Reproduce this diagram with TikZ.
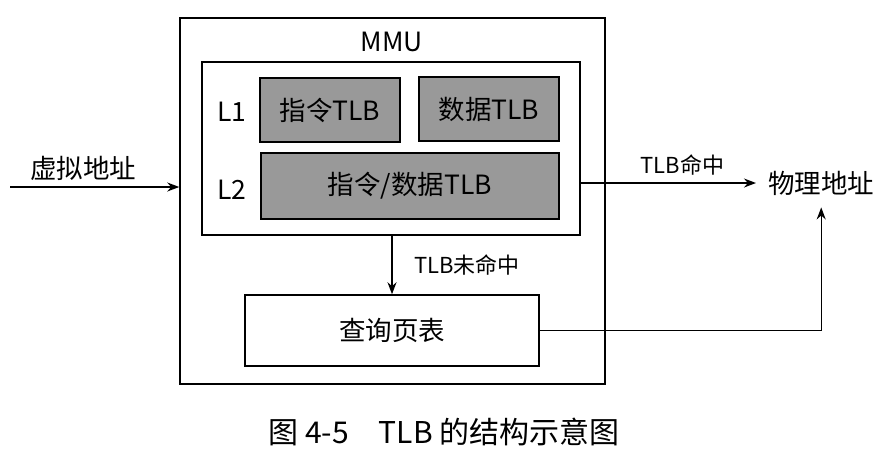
\documentclass[tikz,border=0pt]{standalone}
\usepackage{fontspec}
\setmainfont{Noto Sans CJK SC}
\usetikzlibrary{arrows.meta, positioning, calc}

\begin{document}
\begin{tikzpicture}[
	x=1pt, y=-1pt,
	>={Stealth[length=12pt,width=9pt]},
	every node/.style={font=\fontsize{26.5}{30}\selectfont},
	frame box/.style={
		draw,
		line width=1.5pt,
		inner sep=0
	},
	tlb box/.style={
		frame box,
		fill=black!40,
		minimum height=64pt
	},
	small label/.style={
		font=\fontsize{22}{26}\selectfont
	},
	link/.style={
		->,
		line width=1.4pt
	}
]
	\useasboundingbox (0,0) rectangle (885,456);
	% MMU and the TLB levels
	\node[frame box, minimum width=425pt, minimum height=366pt] (mmu) at (392.5,201) {};
	\node (mmu label) at (392,42) {MMU};
	\node[frame box, minimum width=378pt, minimum height=173pt] (tlb) at (391,148.5) {};
	\node[tlb box, minimum width=140pt] (itlb) at (330,110) {指令TLB};
	\node[tlb box, minimum width=140pt] (dtlb) at (489,109) {数据TLB};
	\node[tlb box, minimum width=298pt, minimum height=66pt] (utlb) at (410,186) {指令/数据TLB};
	\node (l1) at (232,112) {L1};
	\node (l2) at (232,190) {L2};
	\node[frame box, minimum width=294pt, minimum height=71pt] (walk) at (392,330.5) {查询页表};
	% addresses
	\coordinate (va start) at (10,187);
	\node (va) at (83,168) {虚拟地址};
	\node[anchor=west, inner sep=0] (pa) at (768,183) {物理地址};
	% connectors
	\draw[link] (va start) -- (mmu.west |- va start);
	\draw[link] (tlb.east |- pa.west) -- node[small label, above=4pt, pos=0.58] (hit) {TLB命中} ([xshift=-12pt]pa.west);
	\draw[link] (tlb.south -| walk.north) -- node[small label, right=18pt] (miss) {TLB未命中} (walk.north);
	\draw[link, shorten >=12pt] (walk.east) -| (pa.south);
	% caption
	\node[font=\fontsize{30}{34}\selectfont] (caption) at (444,432) {图 4-5\quad TLB 的结构示意图};
\end{tikzpicture}
\end{document}
